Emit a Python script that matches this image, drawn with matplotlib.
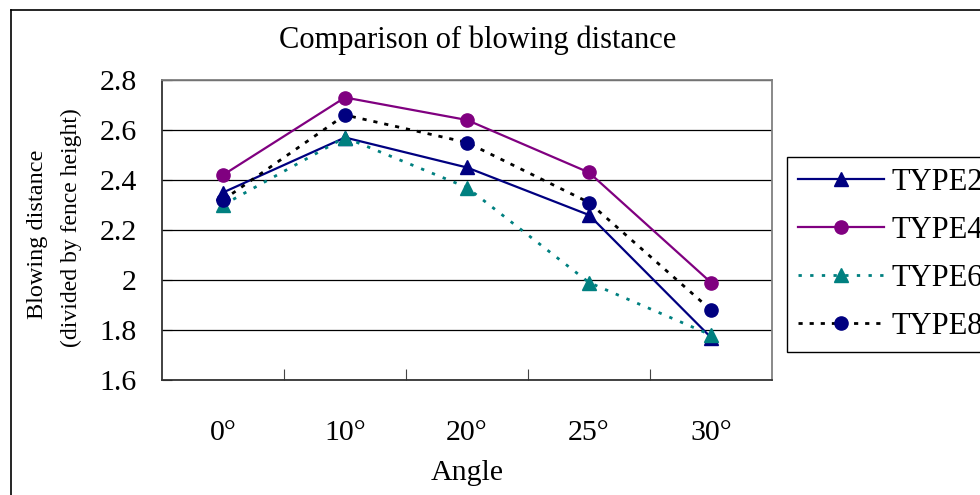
import matplotlib
matplotlib.use("Agg")
import matplotlib.pyplot as plt
from matplotlib.lines import Line2D

plt.rcParams['font.family'] = ['Liberation Serif', 'DejaVu Serif']

angles = ['0°', '10°', '20°', '25°', '30°']
type2 = [2.35, 2.57, 2.45, 2.26, 1.77]
type4 = [2.42, 2.73, 2.64, 2.43, 1.99]
type6 = [2.30, 2.57, 2.37, 1.99, 1.78]
type8 = [2.32, 2.66, 2.55, 2.31, 1.88]

fig = plt.figure(figsize=(9.8, 4.95), dpi=100)
ax = fig.add_axes([162/980, 1-380/495, (772-162)/980, 300/495])

x = list(range(len(angles)))
ax.plot(x, type2, color='#000080', lw=1.6, marker='^', ms=10, label='TYPE2')
ax.plot(x, type4, color='#800080', lw=1.6, marker='o', ms=9.5, label='TYPE4')
ax.plot(x, type6, color='#008080', lw=2, ls=(0, (1.2, 3)), marker='^', ms=10, label='TYPE6')
ax.plot(x, type8, color='black', lw=2, ls=(0, (1.5, 2.5)), marker='o', ms=9.5,
        mfc='#000080', mec='#000080', label='TYPE8')

ax.set_xlim(-0.5, 4.5)
ax.set_ylim(1.6, 2.8)
ax.set_yticks([1.6, 1.8, 2.0, 2.2, 2.4, 2.6, 2.8])
ax.set_yticklabels(['1.6', '1.8', '2', '2.2', '2.4', '2.6', '2.8'])
ax.yaxis.grid(True, color='black', lw=0.9)
ax.set_axisbelow(True)

ax.set_xticks([0.5, 1.5, 2.5, 3.5])
ax.set_xticklabels([])
ax.set_xticks(x, minor=True)
ax.set_xticklabels(angles, minor=True)
ax.tick_params(axis='x', which='major', direction='in', length=8, color='#444444')
ax.tick_params(axis='x', which='minor', length=0, pad=29, labelsize=21.5)
ax.tick_params(axis='y', direction='in', length=7, pad=18, labelsize=21.5)

for s in ['left', 'bottom']:
    ax.spines[s].set_linewidth(1.3)
    ax.spines[s].set_color('#333333')
for s in ['top', 'right']:
    ax.spines[s].set_linewidth(1.3)
    ax.spines[s].set_color('#808080')

fig.text(478/980, 1-40/495, 'Comparison of blowing distance', ha='center', va='center', fontsize=22)
fig.text(467/980, 1-473/495, 'Angle', ha='center', va='center', fontsize=21.5)
fig.text(37/980, 1-234/495, 'Blowing distance', rotation=90, ha='center', va='center', fontsize=17.5)
fig.text(71/980, 1-228/495, '(divided by fence height)', rotation=90, ha='center', va='center', fontsize=17)

# legend runs off the right edge, as in the original chart
leg = fig.legend(loc='upper left', bbox_to_anchor=(787/980, 1-157/495), fontsize=22,
                 frameon=True, fancybox=False, edgecolor='black', framealpha=1,
                 handlelength=2.8, handletextpad=0.25, labelspacing=0.62, borderpad=0.36,
                 borderaxespad=0)
leg.get_frame().set_linewidth(1)

# outer chart frame
fig.add_artist(Line2D([11/980, 11/980], [0, 1-10/495], color='black', lw=1.2))
fig.add_artist(Line2D([11/980, 1], [1-10/495, 1-10/495], color='black', lw=1.2))

fig.savefig('out.png', dpi=100)
